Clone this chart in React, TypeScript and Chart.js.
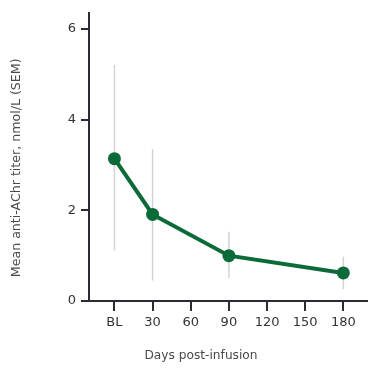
import React, { useEffect, useRef } from "react";
import { Chart, registerables } from "chart.js";

Chart.register(...registerables);

// Data
const days: number[] = [0, 30, 90, 180];
const meanTiter: number[] = [3.14, 1.91, 1.0, 0.62];
const semUpper: number[] = [5.21, 3.35, 1.53, 0.98];
const semLower: number[] = [1.11, 0.45, 0.5, 0.26];
const xTickValues: number[] = [0, 30, 60, 90, 120, 150, 180];
const xTickLabels: string[] = ["BL", "30", "60", "90", "120", "150", "180"];
const yTickValues: number[] = [0, 2, 4, 6];
const xTitle = "Days post-infusion";
const yTitle = "Mean anti-AChr titer, nmol/L (SEM)";

const FONT = "'DejaVu Sans', sans-serif";
const AXIS = "#2b2b35";
const GREEN = "#0b6b38";

const errorBars = {
  id: "errorBars",
  beforeDatasetsDraw(chart: any) {
    const { ctx, scales } = chart;
    const xs = scales.x;
    const ys = scales.y;
    ctx.save();
    ctx.strokeStyle = "#d4d4d4";
    ctx.lineWidth = 1.5;
    for (let i = 0; i < days.length; i++) {
      const x = xs.getPixelForValue(days[i]);
      ctx.beginPath();
      ctx.moveTo(x, ys.getPixelForValue(semUpper[i]));
      ctx.lineTo(x, ys.getPixelForValue(semLower[i]));
      ctx.stroke();
    }
    ctx.restore();
  },
};

const axisTitles = {
  id: "axisTitles",
  afterDraw(chart: any) {
    const { ctx, chartArea } = chart;
    ctx.save();
    ctx.fillStyle = "#4a4a4a";
    ctx.textAlign = "center";
    ctx.textBaseline = "middle";
    ctx.font = `12.2px ${FONT}`;
    ctx.fillText(xTitle, chartArea.left + 112, chartArea.bottom + 55);
    ctx.font = `12.6px ${FONT}`;
    ctx.translate(17, chartArea.top + 155);
    ctx.rotate(-Math.PI / 2);
    ctx.fillText(yTitle, 0, 0);
    ctx.restore();
  },
};

export default function App() {
  const ref = useRef<HTMLCanvasElement | null>(null);
  useEffect(() => {
    if (!ref.current) return;
    const chart = new Chart(ref.current, {
      type: "line",
      data: {
        datasets: [
          {
            data: days.map((d, i) => ({ x: d, y: meanTiter[i] })),
            borderColor: GREEN,
            backgroundColor: GREEN,
            borderWidth: 4,
            pointRadius: 6.5,
            pointHoverRadius: 6.5,
            pointBackgroundColor: GREEN,
            pointBorderWidth: 0,
            tension: 0,
          },
        ],
      },
      options: {
        responsive: false,
        animation: false,
        layout: { padding: { top: 3, right: 0, left: 0, bottom: 0 } },
        plugins: { legend: { display: false }, tooltip: { enabled: false } },
        scales: {
          x: {
            type: "linear",
            min: -20,
            max: 198.2,
            afterFit: (s: any) => {
              s.height = 67;
            },
            afterBuildTicks: (s: any) => {
              s.ticks = xTickValues.map((v) => ({ value: v }));
            },
            grid: {
              drawOnChartArea: false,
              drawTicks: true,
              tickLength: 10,
              color: AXIS,
              lineWidth: 2,
            },
            border: { display: true, color: AXIS, width: 2 },
            ticks: {
              padding: 4,
              color: "#333",
              font: { family: FONT, size: 13 },
              maxRotation: 0,
              autoSkip: false,
              callback: (v: any) => {
                const idx = xTickValues.indexOf(Number(v));
                return idx >= 0 ? xTickLabels[idx] : "";
              },
            },
          },
          y: {
            min: 0,
            max: 6.36,
            afterFit: (s: any) => {
              s.width = 89;
            },
            afterBuildTicks: (s: any) => {
              s.ticks = yTickValues.map((v) => ({ value: v }));
            },
            grid: {
              drawOnChartArea: false,
              drawTicks: true,
              tickLength: 8,
              color: AXIS,
              lineWidth: 2,
            },
            border: { display: true, color: AXIS, width: 2 },
            ticks: {
              padding: 5,
              color: "#333",
              font: { family: FONT, size: 13 },
            },
          },
        },
      },
      plugins: [errorBars, axisTitles],
    });
    return () => chart.destroy();
  }, []);
  return (
    <div style={{ position: "fixed", left: 0, top: 0, width: 373, height: 368, background: "#fff" }}>
      <canvas ref={ref} width={373} height={368} style={{ display: "block" }} />
    </div>
  );
}
